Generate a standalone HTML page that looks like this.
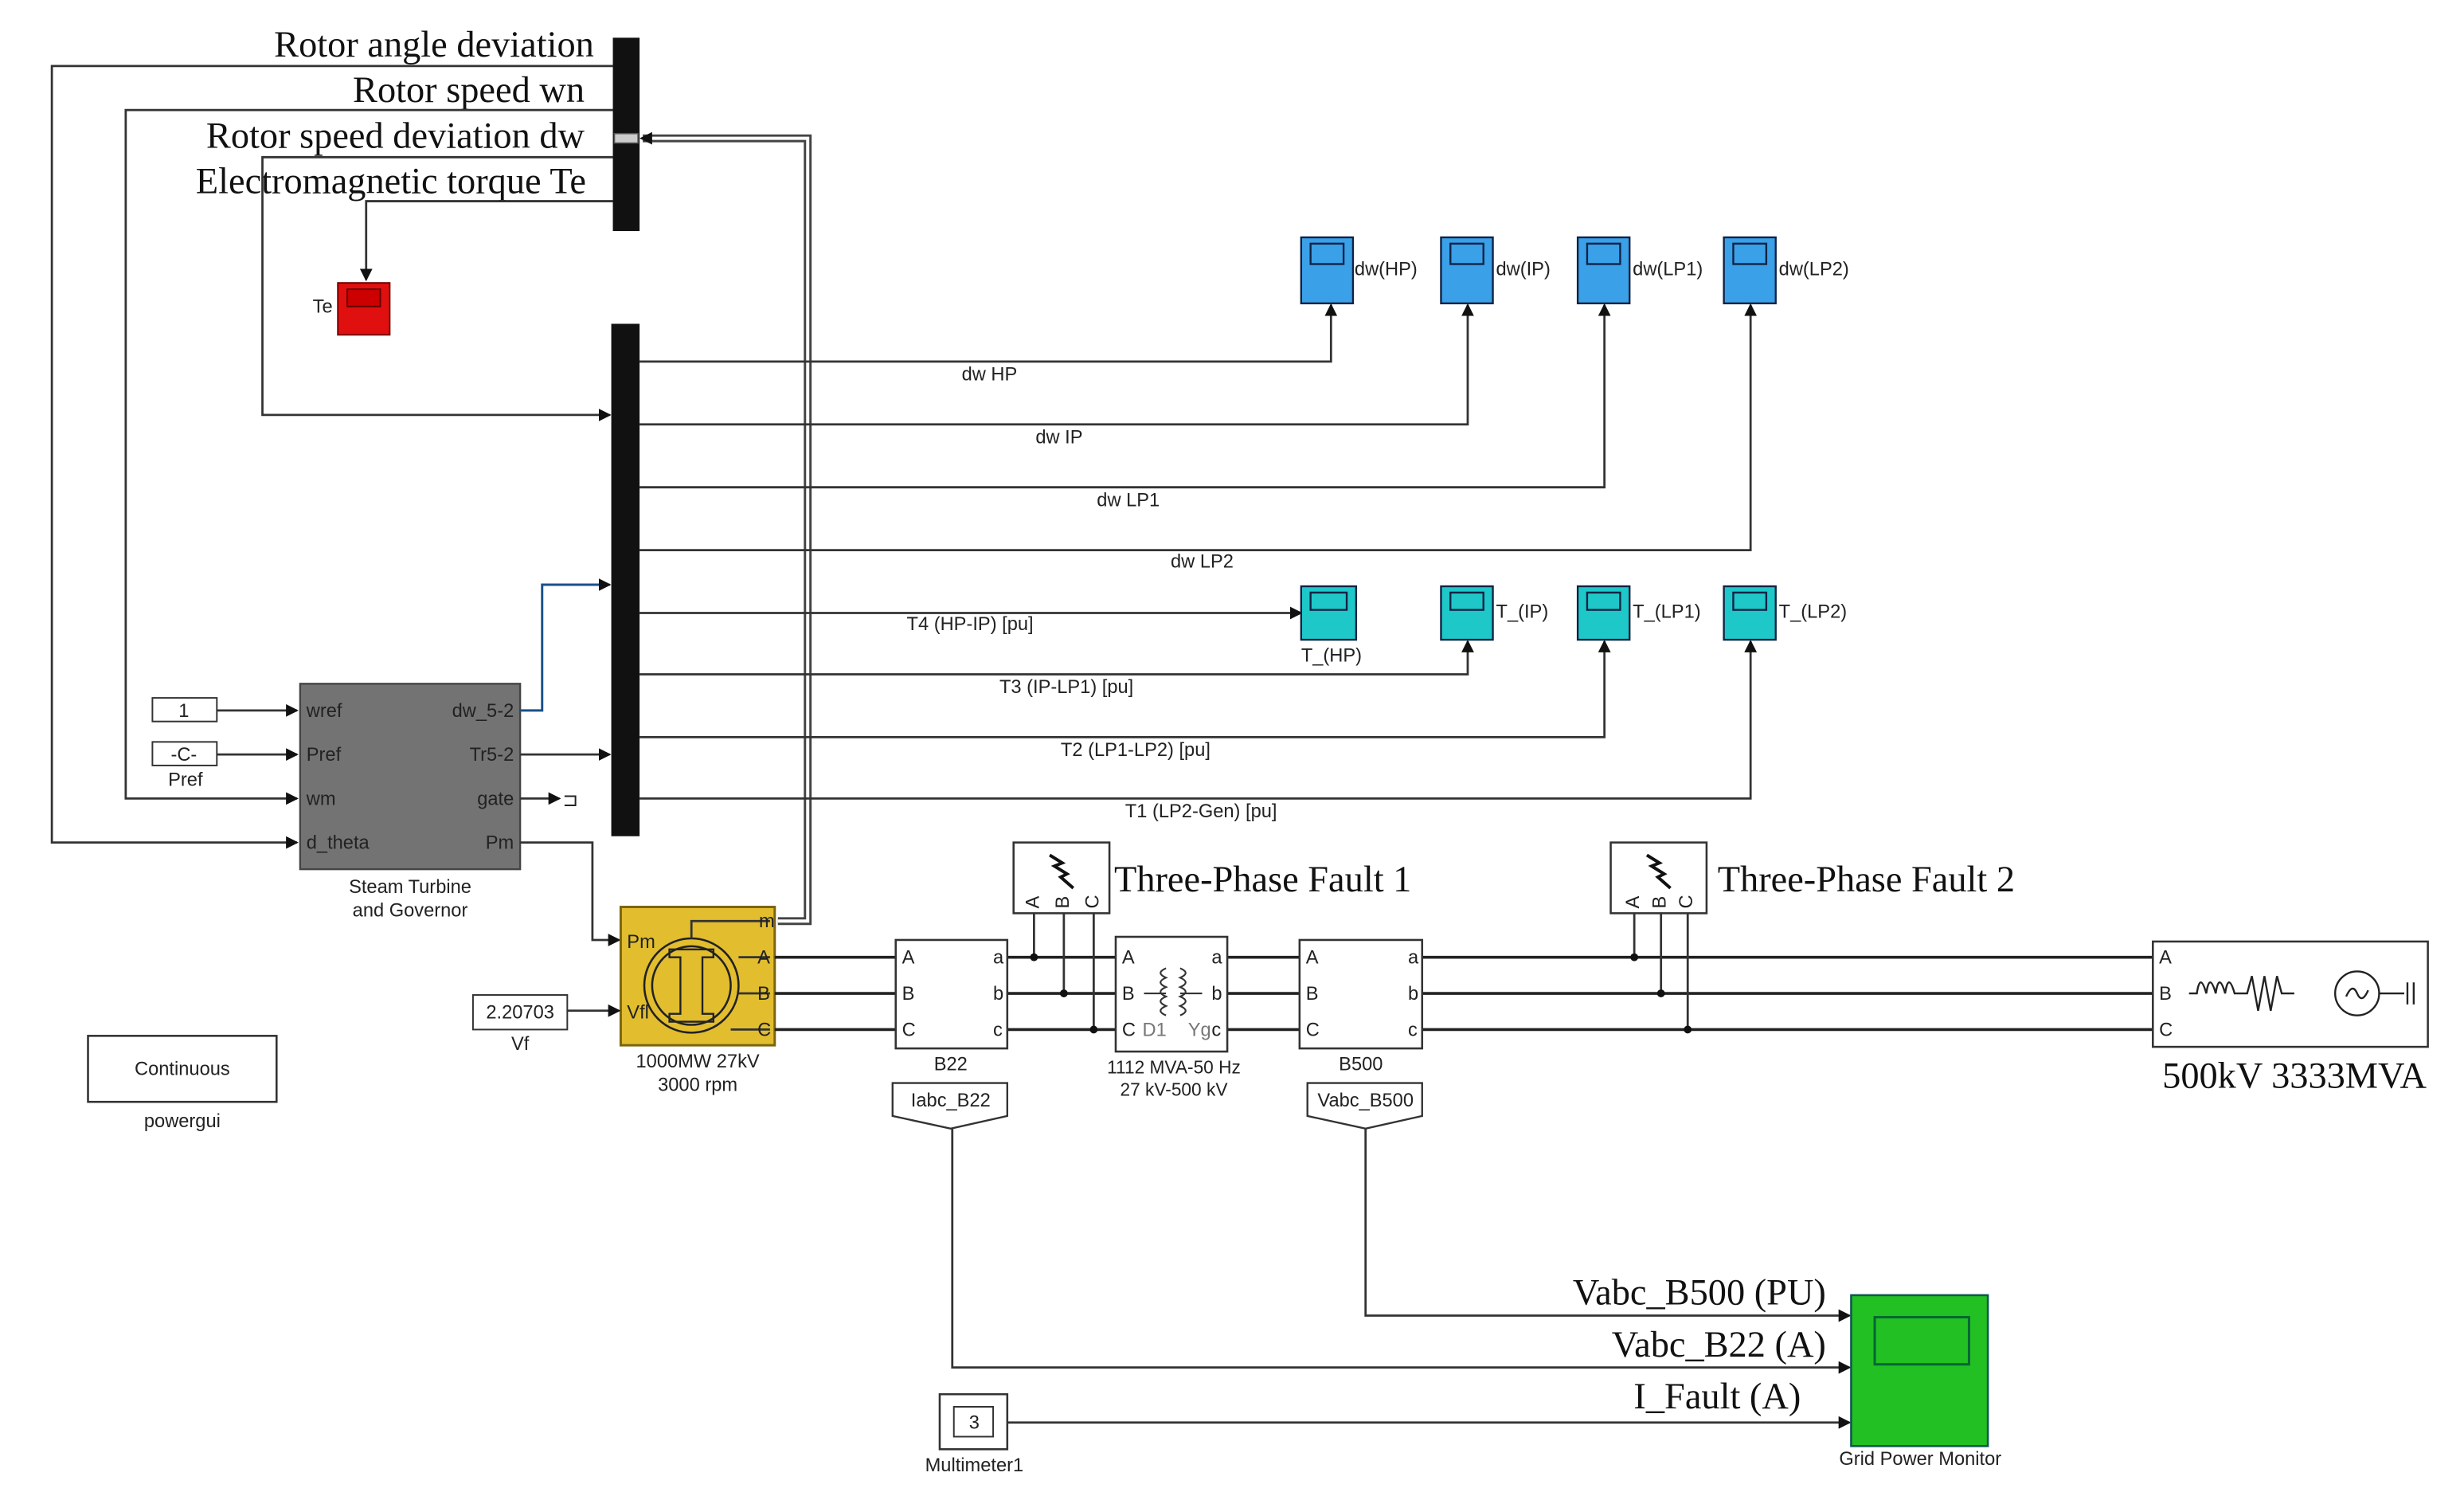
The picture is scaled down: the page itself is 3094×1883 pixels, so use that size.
<!DOCTYPE html>
<html><head><meta charset="utf-8"><style>
html,body{margin:0;padding:0;background:#fff;}
svg{display:block;}
.s{font-family:"Liberation Sans",sans-serif;font-size:12px;fill:#222;}
.r{font-family:"Liberation Serif",serif;font-size:23.5px;fill:#111;}
.l{stroke:#333;stroke-width:1.4;fill:none;}
.p{stroke:#222;stroke-width:1.8;fill:none;}
</style></head><body>
<svg width="3094" height="1883" viewBox="0 0 1568 954.3" preserveAspectRatio="none" xmlns="http://www.w3.org/2000/svg">
<defs>
<marker id="a" markerWidth="8" markerHeight="8" refX="7" refY="4" orient="auto" markerUnits="userSpaceOnUse"><path d="M0,0 L8,4 L0,8 z" fill="#111"/></marker>
</defs>
<rect width="1568" height="954.3" fill="#fff"/>
<!-- top bus -->
<rect x="390" y="24" width="17" height="123" fill="#111"/>
<rect x="391" y="85" width="15" height="6" fill="#ccc" stroke="#555" stroke-width="0.8"/>
<text class="r" x="378" y="36" text-anchor="end">Rotor angle deviation</text>
<text class="r" x="372" y="65" text-anchor="end">Rotor speed wn</text>
<text class="r" x="372" y="94" text-anchor="end">Rotor speed deviation dw</text>
<text class="r" x="373" y="123" text-anchor="end">Electromagnetic torque Te</text>
<polyline class="l" points="390,42 33,42 33,536 189,536" marker-end="url(#a)"/>
<polyline class="l" points="390,70 80,70 80,508 189,508" marker-end="url(#a)"/>
<polyline class="l" points="390,100 167,100 167,264 388,264" marker-end="url(#a)"/>
<polyline class="l" points="390,128 233,128 233,178" marker-end="url(#a)"/>
<!-- double line m -->
<polyline fill="none" stroke="#444" stroke-width="5" points="495,586 514,586 514,88 409,88"/>
<polyline fill="none" stroke="#fff" stroke-width="2" points="495,586 514,586 514,88 409,88"/>
<path d="M407,88 l8,-4 v8z" fill="#111"/>
<!-- Te scope -->
<rect x="215" y="180" width="33" height="33" fill="#e01010" stroke="#700" stroke-width="1"/>
<rect x="221" y="184" width="21" height="11" fill="#c00" stroke="#600" stroke-width="1"/>
<text class="s" x="199" y="199" font-size="11">Te</text>
<!-- bottom bus -->
<rect x="389" y="206" width="18" height="326" fill="#111"/>
<!-- outputs -->
<polyline class="l" points="407,230 847,230 847,194" marker-end="url(#a)"/>
<polyline class="l" points="407,270 934,270 934,194" marker-end="url(#a)"/>
<polyline class="l" points="407,310 1021,310 1021,194" marker-end="url(#a)"/>
<polyline class="l" points="407,350 1114,350 1114,194" marker-end="url(#a)"/>
<polyline class="l" points="407,390 828,390" marker-end="url(#a)"/>
<polyline class="l" points="407,429 934,429 934,408" marker-end="url(#a)"/>
<polyline class="l" points="407,469 1021,469 1021,408" marker-end="url(#a)"/>
<polyline class="l" points="407,508 1114,508 1114,408" marker-end="url(#a)"/>
<g class="s" font-size="11">
<text x="612" y="242">dw HP</text><text x="659" y="282">dw IP</text>
<text x="698" y="322">dw LP1</text><text x="745" y="361">dw LP2</text>
<text x="577" y="401">T4 (HP-IP) [pu]</text><text x="636" y="441">T3 (IP-LP1) [pu]</text>
<text x="675" y="481">T2 (LP1-LP2) [pu]</text><text x="716" y="520">T1 (LP2-Gen) [pu]</text>
</g>
<!-- scopes -->
<g stroke="#124" stroke-width="1.2">
<rect x="828" y="151" width="33" height="42" fill="#3aa0e8"/><rect x="834" y="155" width="21" height="13" fill="#3aa0e8"/>
<rect x="917" y="151" width="33" height="42" fill="#3aa0e8"/><rect x="923" y="155" width="21" height="13" fill="#3aa0e8"/>
<rect x="1004" y="151" width="33" height="42" fill="#3aa0e8"/><rect x="1010" y="155" width="21" height="13" fill="#3aa0e8"/>
<rect x="1097" y="151" width="33" height="42" fill="#3aa0e8"/><rect x="1103" y="155" width="21" height="13" fill="#3aa0e8"/>
<rect x="828" y="373" width="35" height="34" fill="#1ec8c8"/><rect x="834" y="377" width="23" height="11" fill="#1ec8c8"/>
<rect x="917" y="373" width="33" height="34" fill="#1ec8c8"/><rect x="923" y="377" width="21" height="11" fill="#1ec8c8"/>
<rect x="1004" y="373" width="33" height="34" fill="#1ec8c8"/><rect x="1010" y="377" width="21" height="11" fill="#1ec8c8"/>
<rect x="1097" y="373" width="33" height="34" fill="#1ec8c8"/><rect x="1103" y="377" width="21" height="11" fill="#1ec8c8"/>
</g>
<g class="s" font-size="12.5">
<text x="862" y="175">dw(HP)</text><text x="952" y="175">dw(IP)</text><text x="1039" y="175">dw(LP1)</text><text x="1132" y="175">dw(LP2)</text>
<text x="828" y="421">T_(HP)</text><text x="952" y="393">T_(IP)</text><text x="1039" y="393">T_(LP1)</text><text x="1132" y="393">T_(LP2)</text>
</g>
<!-- steam turbine -->
<rect x="191" y="435" width="140" height="118" fill="#737373" stroke="#444" stroke-width="1.2"/>
<g class="s" fill="#222" font-size="11.5">
<text x="195" y="456">wref</text><text x="195" y="484">Pref</text><text x="195" y="512">wm</text><text x="195" y="540">d_theta</text>
<text x="327" y="456" text-anchor="end">dw_5-2</text><text x="327" y="484" text-anchor="end">Tr5-2</text><text x="327" y="512" text-anchor="end">gate</text><text x="327" y="540" text-anchor="end">Pm</text>
</g>
<text class="s" x="261" y="568" text-anchor="middle" font-size="13.5">Steam Turbine</text>
<text class="s" x="261" y="583" text-anchor="middle" font-size="13.5">and Governor</text>
<rect x="97" y="444" width="41" height="15" fill="#fff" stroke="#333"/><text class="s" x="117" y="456" text-anchor="middle">1</text>
<rect x="97" y="472" width="41" height="15" fill="#fff" stroke="#333"/><text class="s" x="117" y="484" text-anchor="middle">-C-</text>
<text class="s" x="118" y="500" text-anchor="middle">Pref</text>
<polyline class="l" points="138,452 189,452" marker-end="url(#a)"/>
<polyline class="l" points="138,480 189,480" marker-end="url(#a)"/>
<polyline fill="none" stroke="#1a4f8a" stroke-width="1.5" points="331,452 345,452 345,372 388,372" marker-end="url(#a)"/>
<polyline class="l" points="331,480 388,480" marker-end="url(#a)"/>
<polyline class="l" points="331,508 356,508" marker-end="url(#a)"/>
<text class="s" x="358" y="513" font-size="13">⊐</text>
<polyline class="l" points="331,536 377,536 377,598 394,598" marker-end="url(#a)"/>
<!-- generator -->
<rect x="395" y="577" width="98" height="88" fill="#e2bd2e" stroke="#7a6410" stroke-width="1.5"/>
<circle cx="440" cy="627" r="30" fill="none" stroke="#222" stroke-width="1.3"/>
<circle cx="440" cy="627" r="25" fill="none" stroke="#222" stroke-width="1.3"/>
<path d="M426,604 h28 v5 h-7 v36 h7 v5 h-28 v-5 h7 v-36 h-7z" fill="none" stroke="#222" stroke-width="1.2"/>
<polyline class="l" points="440,597 440,586 490,586"/>
<line class="l" x1="470" y1="609" x2="490" y2="609"/><line class="l" x1="470" y1="632" x2="490" y2="632"/><line class="l" x1="465" y1="655" x2="490" y2="655"/>
<text class="s" x="399" y="603" fill="#1a3a8a" font-size="13">Pm</text>
<text class="s" x="399" y="648" font-size="12">Vfl</text>
<text class="s" x="483" y="590" font-size="10">m</text>
<text class="s" x="482" y="613">A</text><text class="s" x="482" y="636">B</text><text class="s" x="482" y="659">C</text>
<text class="s" x="444" y="679" text-anchor="middle" font-size="12.5">1000MW 27kV</text>
<text class="s" x="444" y="694" text-anchor="middle" font-size="12.5">3000 rpm</text>
<rect x="301" y="633" width="60" height="22" fill="#fff" stroke="#333"/>
<text class="s" x="331" y="648" text-anchor="middle">2.20703</text>
<text class="s" x="331" y="668" text-anchor="middle">Vf</text>
<polyline class="l" points="361,643 394,643" marker-end="url(#a)"/>
<!-- power lines -->
<g class="p">
<line x1="493" y1="609" x2="570" y2="609"/><line x1="493" y1="632" x2="570" y2="632"/><line x1="493" y1="655" x2="570" y2="655"/>
<line x1="641" y1="609" x2="710" y2="609"/><line x1="641" y1="632" x2="710" y2="632"/><line x1="641" y1="655" x2="710" y2="655"/>
<line x1="781" y1="609" x2="827" y2="609"/><line x1="781" y1="632" x2="827" y2="632"/><line x1="781" y1="655" x2="827" y2="655"/>
<line x1="905" y1="609" x2="1370" y2="609"/><line x1="905" y1="632" x2="1370" y2="632"/><line x1="905" y1="655" x2="1370" y2="655"/>
</g>
<g class="l" stroke="#222">
<line x1="658" y1="581" x2="658" y2="609"/><line x1="677" y1="581" x2="677" y2="632"/><line x1="696" y1="581" x2="696" y2="655"/>
<line x1="1040" y1="581" x2="1040" y2="609"/><line x1="1057" y1="581" x2="1057" y2="632"/><line x1="1074" y1="581" x2="1074" y2="655"/>
</g>
<g fill="#111">
<circle cx="658" cy="609" r="2.5"/><circle cx="677" cy="632" r="2.5"/><circle cx="696" cy="655" r="2.5"/>
<circle cx="1040" cy="609" r="2.5"/><circle cx="1057" cy="632" r="2.5"/><circle cx="1074" cy="655" r="2.5"/>
</g>
<!-- B22 -->
<rect x="570" y="598" width="71" height="69" fill="#fff" stroke="#333" stroke-width="1.3"/>
<g class="s"><text x="574" y="613">A</text><text x="574" y="636">B</text><text x="574" y="659">C</text>
<text x="632" y="613">a</text><text x="632" y="636">b</text><text x="632" y="659">c</text>
<text x="605" y="681" text-anchor="middle">B22</text></g>
<!-- transformer -->
<rect x="710" y="596" width="71" height="73" fill="#fff" stroke="#333" stroke-width="1.3"/>
<g class="s"><text x="714" y="613">A</text><text x="714" y="636">B</text><text x="714" y="659">C</text>
<text x="771" y="613">a</text><text x="771" y="636">b</text><text x="771" y="659">c</text>
<text x="727" y="659" fill="#777">D1</text><text x="756" y="659" fill="#777">Yg</text>
<text x="747" y="683" text-anchor="middle" font-size="11.5">1112 MVA-50 Hz</text><text x="747" y="697" text-anchor="middle" font-size="11.5">27 kV-500 kV</text></g>
<path d="M742,616 q-7,3 0,6 q-7,3 0,6 q-7,3 0,6 q-7,3 0,6 q-7,3 0,6 M751,616 q7,3 0,6 q7,3 0,6 q7,3 0,6 q7,3 0,6 q7,3 0,6 M728,632 h14 M751,632 h14" fill="none" stroke="#333" stroke-width="1.1"/>
<!-- B500 -->
<rect x="827" y="598" width="78" height="69" fill="#fff" stroke="#333" stroke-width="1.3"/>
<g class="s"><text x="831" y="613">A</text><text x="831" y="636">B</text><text x="831" y="659">C</text>
<text x="896" y="613">a</text><text x="896" y="636">b</text><text x="896" y="659">c</text>
<text x="866" y="681" text-anchor="middle">B500</text></g>
<!-- faults -->
<rect x="645" y="536" width="61" height="45" fill="#fff" stroke="#333" stroke-width="1.3"/>
<path d="M668,544 l8,5 l-5,2 l8,5 l-4,2 l8,7" fill="none" stroke="#111" stroke-width="2"/>
<g class="s" font-size="10"><text x="655" y="578" transform="rotate(-90 658 575)">A</text><text x="674" y="578" transform="rotate(-90 677 575)">B</text><text x="693" y="578" transform="rotate(-90 696 575)">C</text></g>
<text class="r" x="709" y="567">Three-Phase Fault 1</text>
<rect x="1025" y="536" width="61" height="45" fill="#fff" stroke="#333" stroke-width="1.3"/>
<path d="M1048,544 l8,5 l-5,2 l8,5 l-4,2 l8,7" fill="none" stroke="#111" stroke-width="2"/>
<g class="s" font-size="10"><text x="1037" y="578" transform="rotate(-90 1040 575)">A</text><text x="1054" y="578" transform="rotate(-90 1057 575)">B</text><text x="1071" y="578" transform="rotate(-90 1074 575)">C</text></g>
<text class="r" x="1093" y="567">Three-Phase Fault 2</text>
<!-- source -->
<rect x="1370" y="599" width="175" height="67" fill="#fff" stroke="#333" stroke-width="1.3"/>
<g class="s"><text x="1374" y="613">A</text><text x="1374" y="636">B</text><text x="1374" y="659">C</text></g>
<path d="M1393,632 h5 q2,-14 6,0 q2,-14 6,0 q2,-14 6,0 q2,-14 6,0 h8 l3,-11 l4,22 l4,-22 l4,22 l4,-22 l3,11 h8" fill="none" stroke="#222" stroke-width="1.2"/>
<circle cx="1500" cy="632" r="14" fill="none" stroke="#222" stroke-width="1.2"/>
<path d="M1493,634 q4,-9 7,-2 q3,7 7,-2 M1514,632 h16 M1532,625 v14 M1536,625 v14" fill="none" stroke="#222" stroke-width="1.2"/>
<text class="r" x="1376" y="692">500kV 3333MVA</text>
<!-- gotos -->
<path d="M568,689 h73 v21 l-36,8 l-37,-8z" fill="#fff" stroke="#333" stroke-width="1.2"/>
<text class="s" x="605" y="704" text-anchor="middle" font-size="11.5">Iabc_B22</text>
<path d="M832,689 h73 v21 l-36,8 l-37,-8z" fill="#fff" stroke="#333" stroke-width="1.2"/>
<text class="s" x="869" y="704" text-anchor="middle" font-size="11.5">Vabc_B500</text>
<polyline class="l" points="606,718 606,870 1177,870" marker-end="url(#a)"/>
<polyline class="l" points="869,718 869,837 1177,837" marker-end="url(#a)"/>
<rect x="598" y="887" width="43" height="35" fill="#fff" stroke="#333" stroke-width="1.3"/>
<rect x="607" y="895" width="25" height="19" fill="#fff" stroke="#333"/>
<text class="s" x="620" y="909" text-anchor="middle">3</text>
<text class="s" x="620" y="936" text-anchor="middle" font-size="10.5">Multimeter1</text>
<polyline class="l" points="641,905 1177,905" marker-end="url(#a)"/>
<text class="r" x="1162" y="830" text-anchor="end">Vabc_B500 (PU)</text>
<text class="r" x="1162" y="863" text-anchor="end">Vabc_B22 (A)</text>
<text class="r" x="1146" y="896" text-anchor="end">I_Fault (A)</text>
<rect x="1178" y="824" width="87" height="96" fill="#22c022" stroke="#155" stroke-width="1.3"/>
<rect x="1193" y="838" width="60" height="30" fill="none" stroke="#063" stroke-width="1.5"/>
<text class="s" x="1222" y="932" text-anchor="middle" font-size="10.5">Grid Power Monitor</text>
<!-- powergui -->
<rect x="56" y="659" width="120" height="42" fill="#fff" stroke="#333" stroke-width="1.3"/>
<text class="s" x="116" y="684" text-anchor="middle" fill="#1a3aaa" font-size="13.5">Continuous</text>
<text class="s" x="116" y="717" text-anchor="middle" font-size="12.5">powergui</text>
</svg>
</body></html>
